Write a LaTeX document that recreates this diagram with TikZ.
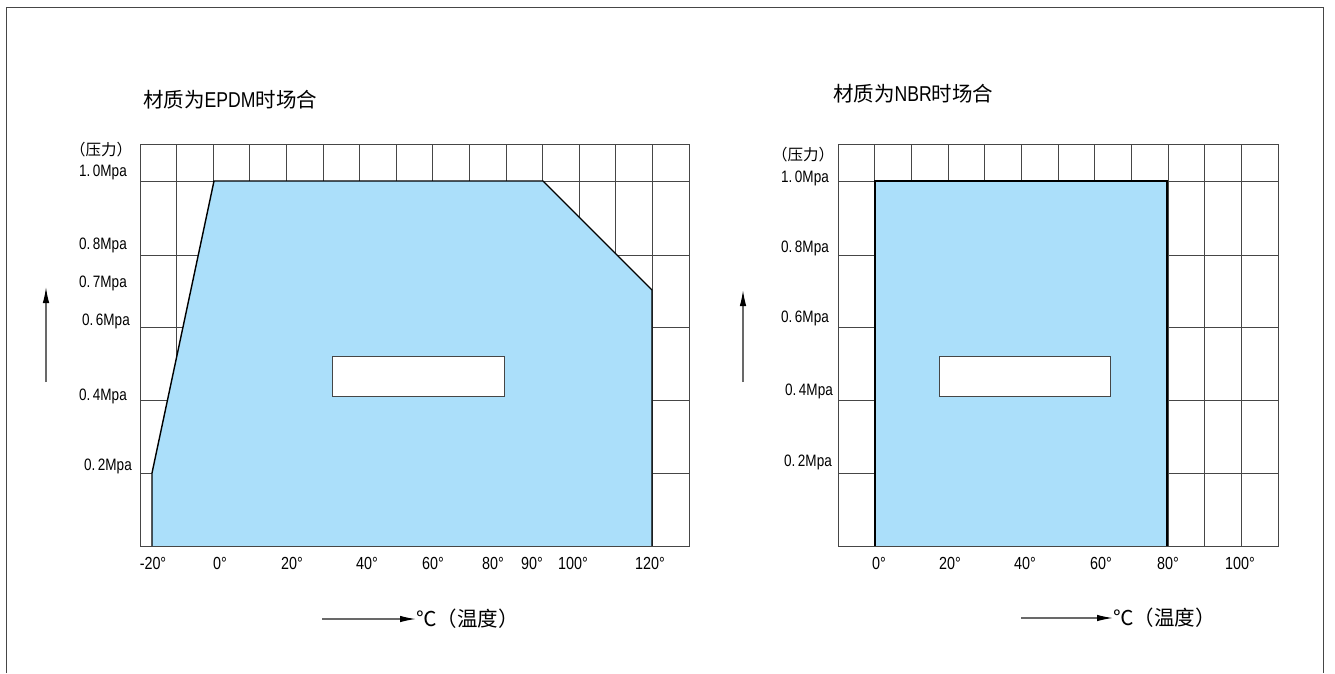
\documentclass[tikz,border=0pt]{standalone}
\usepackage{fontspec}
\setmainfont{Liberation Sans}
\newfontfamily\cjk{Noto Sans CJK SC}
\newfontfamily\lat[FakeStretch=0.82]{Liberation Sans}
\usetikzlibrary{arrows.meta}
\definecolor{zonefill}{RGB}{171,223,250}
\definecolor{gridgray}{RGB}{70,70,70}
\definecolor{arrowgray}{RGB}{105,105,105}
\begin{document}
\begin{tikzpicture}[x=1pt,y=-1pt,
  gridline/.style={draw=gridgray,line width=0.9pt},
  zone/.style={fill=zonefill,draw=none},
  zoneedge/.style={draw=black,line width=1.4pt,line join=miter},
  hole/.style={fill=white,draw=gridgray,line width=1pt},
  mpa/.style={font=\lat\fontsize{16.5}{16.5}\selectfont,anchor=east,inner sep=0pt},
  deg/.style={font=\lat\fontsize{17.5}{17.5}\selectfont,inner sep=0pt},
  ttl/.style={font=\fontsize{20.5}{20.5}\selectfont,anchor=west,inner sep=0pt},
  press/.style={font=\cjk\fontsize{15.5}{15.5}\selectfont,inner sep=0pt},
  temp/.style={font=\cjk\fontsize{20.5}{20.5}\selectfont,anchor=west,inner sep=0pt},
  axisarrow/.style={draw=arrowgray,line width=1.3pt,-{Latex[length=16pt,width=6.5pt,black]}},
  frameline/.style={draw=gridgray,line width=1pt}
]
\useasboundingbox (0,0) rectangle (1335,673);
\fill[white] (0,0) rectangle (1335,673);
% outer frame
\draw[frameline] (6,673) -- (6,7) -- (1323,7) -- (1323,673);

% ---------------- left chart (EPDM) ----------------
\foreach \k in {0,...,15} \draw[gridline] ({140+\k*36.6},144) -- ({140+\k*36.6},546.5);
\foreach \yy in {144,181,255,327,400.5,473} \draw[gridline] (140,\yy) -- (689,\yy);
\fill[zone] (152,546.5) -- (152,473) -- (214,181) -- (543,181) -- (652,290) -- (652,546.5) -- cycle;
\draw[zoneedge] (152,546.5) -- (152,473) -- (214,181) -- (543,181) -- (652,290) -- (652,546.5);
\draw[gridline] (140,546.5) -- (689,546.5);
\draw[hole] (332,356) rectangle (504,396);

\node[ttl] (t1) at (143,100) {\cjk 材质为\lat\fontsize{21.5}{21.5}\selectfont EPDM\cjk\fontsize{20.5}{20.5}\selectfont 时场合};
\node[press] (p1) at (101,150) {（压力）};
\node[mpa] (a10) at (127,172) {1.\kern2.5pt 0Mpa};
\node[mpa] (a08) at (127,245) {0.\kern2.5pt 8Mpa};
\node[mpa] (a07) at (127,283) {0.\kern2.5pt 7Mpa};
\node[mpa] (a06) at (130,321) {0.\kern2.5pt 6Mpa};
\node[mpa] (a04) at (127,396) {0.\kern2.5pt 4Mpa};
\node[mpa] (a02) at (132,466) {0.\kern2.5pt 2Mpa};
\foreach \xx/\lab/\nm in {153/-20/m20,220/0/d0,292/20/d20,367/40/d40,433/60/d60,493/80/d80,532/90/d90,573/100/d100,650/120/d120}
  \node[deg] (l\nm) at (\xx,563) {\lab°};
\coordinate (ua1) at (46,382);
\coordinate (ub1) at (46,287);
\draw[axisarrow] (ua1) -- (ub1);
\coordinate (ta1) at (322,619);
\node[temp] (tl1) at (416,619) {℃（温度）};
\draw[axisarrow] (ta1) -- (ta1 -| tl1.west);

% ---------------- right chart (NBR) ----------------
\foreach \k in {0,...,12} \draw[gridline] ({838+\k*36.67},144) -- ({838+\k*36.67},546.5);
\foreach \yy in {144,181,255,327,400.5,473} \draw[gridline] (838,\yy) -- (1278,\yy);
\fill[zone] (875,546.5) rectangle (1167,181);
\draw[zoneedge] (875,546.5) -- (875,181) -- (1167,181) -- (1167,546.5);
\draw[gridline] (838,546.5) -- (1278,546.5);
\draw[hole] (939,356) rectangle (1110,396);

\node[ttl] (t2) at (833,94) {\cjk 材质为\lat\fontsize{21.5}{21.5}\selectfont NBR\cjk\fontsize{20.5}{20.5}\selectfont 时场合};
\node[press] (p2) at (803,155) {（压力）};
\node[mpa] (b10) at (829,178) {1.\kern2.5pt 0Mpa};
\node[mpa] (b08) at (829,248) {0.\kern2.5pt 8Mpa};
\node[mpa] (b06) at (829,318) {0.\kern2.5pt 6Mpa};
\node[mpa] (b04) at (833,391) {0.\kern2.5pt 4Mpa};
\node[mpa] (b02) at (832,462) {0.\kern2.5pt 2Mpa};
\foreach \xx/\lab/\nm in {879/0/d0,950/20/d20,1025/40/d40,1101/60/d60,1168/80/d80,1240/100/d100}
  \node[deg] (r\nm) at (\xx,563) {\lab°};
\coordinate (ua2) at (743,382);
\coordinate (ub2) at (743,290);
\draw[axisarrow] (ua2) -- (ub2);
\coordinate (ta2) at (1021,618);
\node[temp] (tl2) at (1113,618) {℃（温度）};
\draw[axisarrow] (ta2) -- (ta2 -| tl2.west);
\end{tikzpicture}
\end{document}
